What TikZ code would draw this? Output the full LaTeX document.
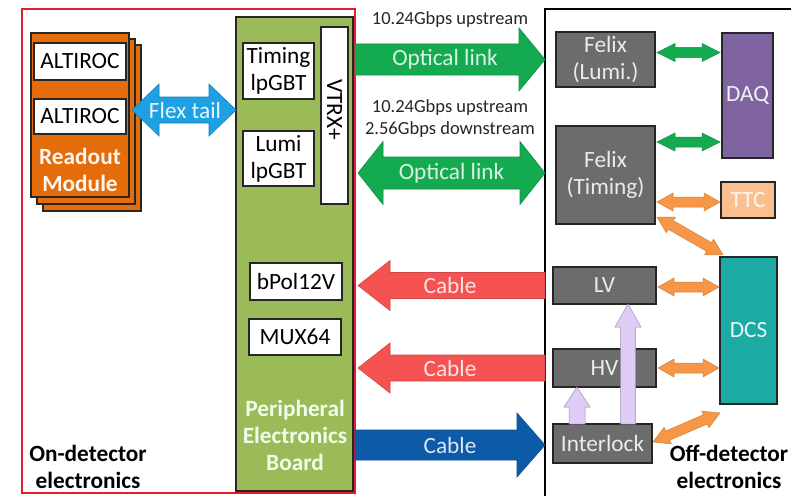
\documentclass[tikz,border=0pt]{standalone}
\usepackage{fontspec}
\setmainfont{Carlito}
\usetikzlibrary{calc}
\definecolor{redbox}{RGB}{228,30,40}
\definecolor{rmorange}{RGB}{228,108,10}
\definecolor{pebgreen}{RGB}{155,187,89}
\definecolor{flexblue}{RGB}{29,161,226}
\definecolor{optgreen}{RGB}{20,170,80}
\definecolor{cablered}{RGB}{245,82,82}
\definecolor{cableblue}{RGB}{12,90,168}
\definecolor{felixgray}{RGB}{108,108,108}
\definecolor{daqpurple}{RGB}{128,100,162}
\definecolor{ttcpeach}{RGB}{250,192,144}
\definecolor{dcsteal}{RGB}{28,170,165}
\definecolor{orarrow}{RGB}{247,150,70}
\definecolor{lavender}{RGB}{222,204,246}
\newcommand\mainsz{\fontsize{23.3}{27}\selectfont}
\newcommand\ratesz{\fontsize{18.5}{22}\selectfont}
\newcommand\bx[7]{\node[#2, minimum width={#5-#3}, minimum height={#6-#4}] (#1) at ({(#3+#5)/2},{(#4+#6)/2}) {#7};}
% single block arrow: style, from, to, shaft half width, head half width, head length
\newcommand\sarrow[6]{%
  \path[#1] let \p1=(#2), \p2=(#3), \n1={atan2(\y2-\y1,\x2-\x1)}, \n2={veclen(\x2-\x1,\y2-\y1)} in
  [shift={(\p1)}, rotate=\n1] (0,#4) -- ({\n2-#6},#4) -- ({\n2-#6},#5) -- (\n2,0) -- ({\n2-#6},-#5) -- ({\n2-#6},-#4) -- (0,-#4) -- cycle;}
% double block arrow
\newcommand\darrow[6]{%
  \path[#1] let \p1=(#2), \p2=(#3), \n1={atan2(\y2-\y1,\x2-\x1)}, \n2={veclen(\x2-\x1,\y2-\y1)} in
  [shift={(\p1)}, rotate=\n1] (0,0) -- (#6,#5) -- (#6,#4) -- ({\n2-#6},#4) -- ({\n2-#6},#5) -- (\n2,0) -- ({\n2-#6},-#5) -- ({\n2-#6},-#4) -- (#6,-#4) -- (#6,-#5) -- cycle;}
\begin{document}
\begin{tikzpicture}[x=1pt,y=-1pt,
  box/.style={draw=black!85, line width=1.3pt, inner sep=0pt, outer sep=0pt, align=center, font=\mainsz},
  wbox/.style={box, fill=white, text=black},
  gbox/.style={box, fill=felixgray, text=white!92!black},
  lbl/.style={font=\mainsz, align=center},
  rate/.style={font=\ratesz, align=center, text=black!85},
  bold/.style={font=\mainsz\bfseries, align=center}]
\path[use as bounding box, fill=white] (0,0) rectangle (791,495);
\clip (0,0) rectangle (791,495);

% regions
\bx{ondet}{draw=redbox, line width=2pt, inner sep=0pt, outer sep=0pt}{22}{9}{355}{493}{}
\bx{offdet}{draw=black, line width=2pt, inner sep=0pt, outer sep=0pt}{545}{9}{830}{530}{}

% readout module stack
\bx{rm3}{box, fill=rmorange}{43}{45}{141}{211}{}
\bx{rm2}{box, fill=rmorange}{37}{39}{135}{204}{}
\bx{rm}{box, fill=rmorange}{31}{33}{129}{197}{}
\bx{alt1}{wbox}{34}{43}{126}{80}{ALTIROC}
\bx{alt2}{wbox}{34}{99}{126}{134}{ALTIROC}
\node[bold, text=white!94!orange] (rmtext) at (80,170) {Readout\\Module};

% peripheral electronics board
\bx{peb}{box, fill=pebgreen}{236}{17}{353}{491}{}
\bx{vtrx}{wbox}{321}{27}{348}{204}{}
\node[lbl, rotate=-90] (vtrxtext) at ($(vtrx)+(0,-6)$) {VTRX+};
\bx{tim}{wbox}{243}{43}{314}{99}{Timing\\lpGBT}
\bx{lumi}{wbox}{243}{131}{314}{186}{Lumi\\lpGBT}
\bx{bpol}{wbox}{250}{263}{342}{300}{bPol12V}
\bx{mux}{wbox}{249}{319}{341}{355}{MUX64}
\node[bold, text=white!92!green] (pebtext) at (295,435) {Peripheral\\Electronics\\Board};
\node[bold] (ontext) at (88,467) {On-detector\\electronics};

% off-detector boxes
\bx{felixL}{gbox}{556}{32}{655}{87}{Felix\\(Lumi.)}
\bx{felixT}{gbox}{556}{126}{655}{224}{Felix\\(Timing)}
\bx{daq}{box, fill=daqpurple, text=white!90!daqpurple}{722}{33}{773}{158}{DAQ}
\bx{ttc}{box, fill=ttcpeach, text=white!85!ttcpeach}{721}{182}{775}{218}{TTC}
\bx{dcs}{box, fill=dcsteal, text=white!90!dcsteal}{720}{257}{777}{404}{DCS}
\bx{lv}{gbox}{553}{267}{656}{304}{LV}
\bx{hv}{gbox}{553}{349}{656}{387}{HV}
\bx{il}{gbox}{553}{424}{652}{463}{Interlock}
\node[bold] (offtext) at (729,467) {Off-detector\\electronics};

% flex tail
\darrow{fill=flexblue, draw=flexblue!80!black, line width=0.6pt}{132,110}{peb.west |- 0,110}{13}{26}{27}
\node[lbl, text=white!90!flexblue] at (185,110) {Flex tail};

% optical links
\coordinate (o1a) at (ondet.east |- felixL);
\coordinate (o1b) at (offdet.west |- felixL);
\sarrow{fill=optgreen, draw=optgreen!85!black, line width=0.6pt}{o1a}{o1b}{15.5}{31.5}{26}
\node[lbl, text=white!85!optgreen] at ($(o1a)!0.5!(o1b)+(-5,0)$) {Optical link};
\node[rate] at (450,20) {10.24Gbps upstream};

\coordinate (o2a) at ($(ondet.east |- felixT)+(3,-2)$);
\coordinate (o2b) at ($(offdet.west |- felixT)+(0,-2)$);
\darrow{fill=optgreen, draw=optgreen!85!black, line width=0.6pt}{o2a}{o2b}{16}{31.5}{25}
\node[lbl, text=white!85!optgreen] at ($(o2a)!0.5!(o2b)$) {Optical link};
\node[rate] at (450,119) {10.24Gbps upstream\\2.56Gbps downstream};

% cables
\coordinate (c1a) at (offdet.west |- lv);
\coordinate (c1b) at ($(ondet.east |- lv)+(3,0)$);
\sarrow{fill=cablered, draw=cablered!85!black, line width=0.6pt}{c1a}{c1b}{13}{25}{32}
\node[lbl, text=white!85!cablered] at (450,285) {Cable};

\coordinate (c2a) at (offdet.west |- hv);
\coordinate (c2b) at ($(ondet.east |- hv)+(3,0)$);
\sarrow{fill=cablered, draw=cablered!85!black, line width=0.6pt}{c2a}{c2b}{13}{25}{32}
\node[lbl, text=white!85!cablered] at (450,368) {Cable};

\coordinate (c3a) at ($(ondet.east |- il)+(0,1.5)$);
\coordinate (c3b) at ($(offdet.west |- il)+(0,1.5)$);
\sarrow{fill=cableblue, draw=cableblue!85!black, line width=0.6pt}{c3a}{c3b}{15}{32}{28}
\node[lbl, text=white!85!cableblue] at (450,445) {Cable};

% small arrows off-detector
\darrow{fill=optgreen, draw=optgreen!85!black, line width=0.5pt}{$(felixL.east)+(2,-7)$}{$(daq.west |- felixL.east)+(-2,-7)$}{5}{9}{18}
\darrow{fill=optgreen, draw=optgreen!85!black, line width=0.5pt}{$(felixT.north east)+(2,16)$}{$(daq.west |- felixT.north east)+(-2,16)$}{5}{9}{18}
\darrow{fill=orarrow, draw=orarrow!85!black, line width=0.5pt}{$(felixT.east |- ttc)+(2,2)$}{$(ttc.west)+(-1,2)$}{5}{9}{16}
\darrow{fill=orarrow, draw=orarrow!85!black, line width=0.5pt}{$(felixT.south east)+(2,-7)$}{$(dcs.north west)+(3,-2)$}{5}{9}{16}
\darrow{fill=orarrow, draw=orarrow!85!black, line width=0.5pt}{$(lv.east)+(2,1.5)$}{$(dcs.west |- lv.east)+(-1,1.5)$}{5}{9}{16}
\darrow{fill=orarrow, draw=orarrow!85!black, line width=0.5pt}{$(hv.east)+(2,0)$}{$(dcs.west |- hv.east)+(-1,0)$}{5}{9}{16}
\darrow{fill=orarrow, draw=orarrow!85!black, line width=0.5pt}{$(il.east)+(1,-1.5)$}{$(dcs.south west)+(0,9)$}{5}{9}{16}

% interlock arrows
\sarrow{fill=lavender, draw=lavender!70!black, line width=0.5pt}{$(il.north west)+(24,0)$}{$(hv.south west)+(24,0)$}{8}{13}{20}
\sarrow{fill=lavender, draw=lavender!70!black, line width=0.5pt}{$(il.north west)+(75,0)$}{$(lv.south west)+(75,0)$}{7.5}{13}{23}
\end{tikzpicture}
\end{document}
